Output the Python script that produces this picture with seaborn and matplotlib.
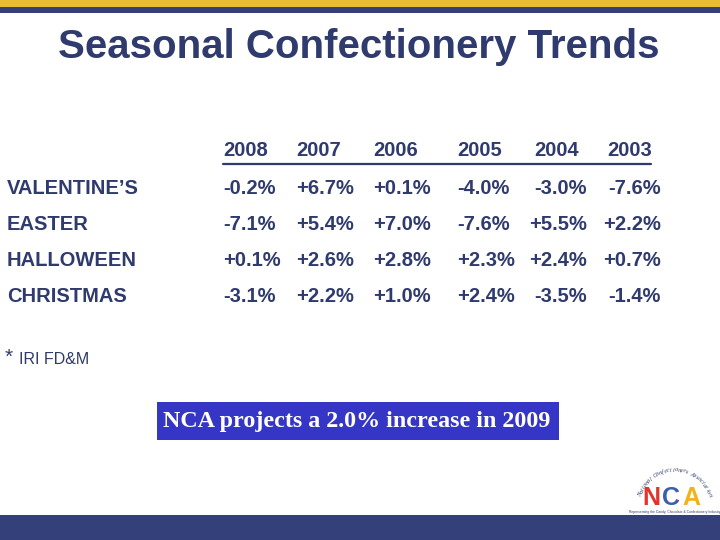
import numpy as np
import matplotlib.pyplot as plt
import seaborn as sns
from matplotlib.patches import Rectangle

# Data
years = ['2008', '2007', '2006', '2005', '2004', '2003']
holidays = ['VALENTINE\u2019S', 'EASTER', 'HALLOWEEN', 'CHRISTMAS']
valentines = ['-0.2%', '+6.7%', '+0.1%', '-4.0%', '-3.0%', '-7.6%']
easter = ['-7.1%', '+5.4%', '+7.0%', '-7.6%', '+5.5%', '+2.2%']
halloween = ['+0.1%', '+2.6%', '+2.8%', '+2.3%', '+2.4%', '+0.7%']
christmas = ['-3.1%', '+2.2%', '+1.0%', '+2.4%', '-3.5%', '-1.4%']
rows = [valentines, easter, halloween, christmas]

navy = '#2f3a6e'
gold = '#e6bd34'

sns.set_theme(style='white')
plt.rcParams['font.family'] = ['Liberation Sans', 'DejaVu Sans']

fig = plt.figure(figsize=(7.2, 5.4), dpi=100)
ax = fig.add_axes([0, 0, 1, 1])
ax.set_xlim(0, 720)
ax.set_ylim(540, 0)
ax.axis('off')

# top and bottom bands
ax.add_patch(Rectangle((0, 0), 720, 7, color=gold, lw=0))
ax.add_patch(Rectangle((0, 7), 720, 6, color='#34407a', lw=0))
ax.add_patch(Rectangle((0, 515), 720, 25, color='#34407a', lw=0))

# title
ax.text(359, 47, 'Seasonal Confectionery Trends', ha='center', va='center',
        fontsize=29, fontweight='bold', color=navy,
        family=['Liberation Sans Narrow', 'Liberation Sans'])

# table layout
head_x = [223, 296, 373, 457, 534, 607]
cell_x = [223, 296, 373, 457, 587, 661]
cell_ha = ['left', 'left', 'left', 'left', 'right', 'right']
header_y = 151
row_y = [188, 224, 260, 296]
fs = 14.5

for x, yr in zip(head_x, years):
    ax.text(x, header_y, yr, ha='left', va='center', fontsize=fs,
            fontweight='bold', color=navy)
ax.plot([223, 651], [163.5, 163.5], color=navy, lw=1.6)

for y, name, vals in zip(row_y, holidays, rows):
    ax.text(7, y, name, ha='left', va='center', fontsize=fs,
            fontweight='bold', color=navy)
    for x, ha, v in zip(cell_x, cell_ha, vals):
        ax.text(x, y, v, ha=ha, va='center', fontsize=fs,
                fontweight='bold', color=navy)

# footnote
ax.text(5, 357, '*', ha='left', va='center', fontsize=15, color=navy)
ax.text(19, 359, 'IRI FD&M', ha='left', va='center', fontsize=11.5, color=navy)

# projection box
ax.add_patch(Rectangle((157, 402), 402, 38, color='#3535c6', lw=0))
ax.text(357, 421, 'NCA projects a 2.0% increase in 2009', ha='center', va='center',
        fontsize=17.3, fontweight='bold', color='white',
        family=['Liberation Serif', 'DejaVu Serif'])

# logo
cx, cy, r = 675, 506, 36
arc_label = 'National Confectioners Association'
angles = np.linspace(162, 18, len(arc_label))
for ch, a in zip(arc_label, angles):
    t = np.deg2rad(a)
    ax.text(cx + r * np.cos(t), cy - r * np.sin(t), ch, ha='center',
            va='center', fontsize=4.6, color=navy, rotation=a - 90,
            family=['Liberation Serif', 'DejaVu Serif'], style='italic')
ax.text(651, 498, 'N', ha='center', va='center', fontsize=18, fontweight='bold', color='#e0342c')
ax.text(671, 498, 'C', ha='center', va='center', fontsize=18, fontweight='bold', color='#3a5fb0')
ax.text(691, 498, 'A', ha='center', va='center', fontsize=18, fontweight='bold', color='#f2b21b')
ax.text(675, 512, 'Representing the Candy, Chocolate & Confectionery Industry', ha='center',
        va='center', fontsize=2.4, color=navy)

fig.savefig('out.png', dpi=100)
